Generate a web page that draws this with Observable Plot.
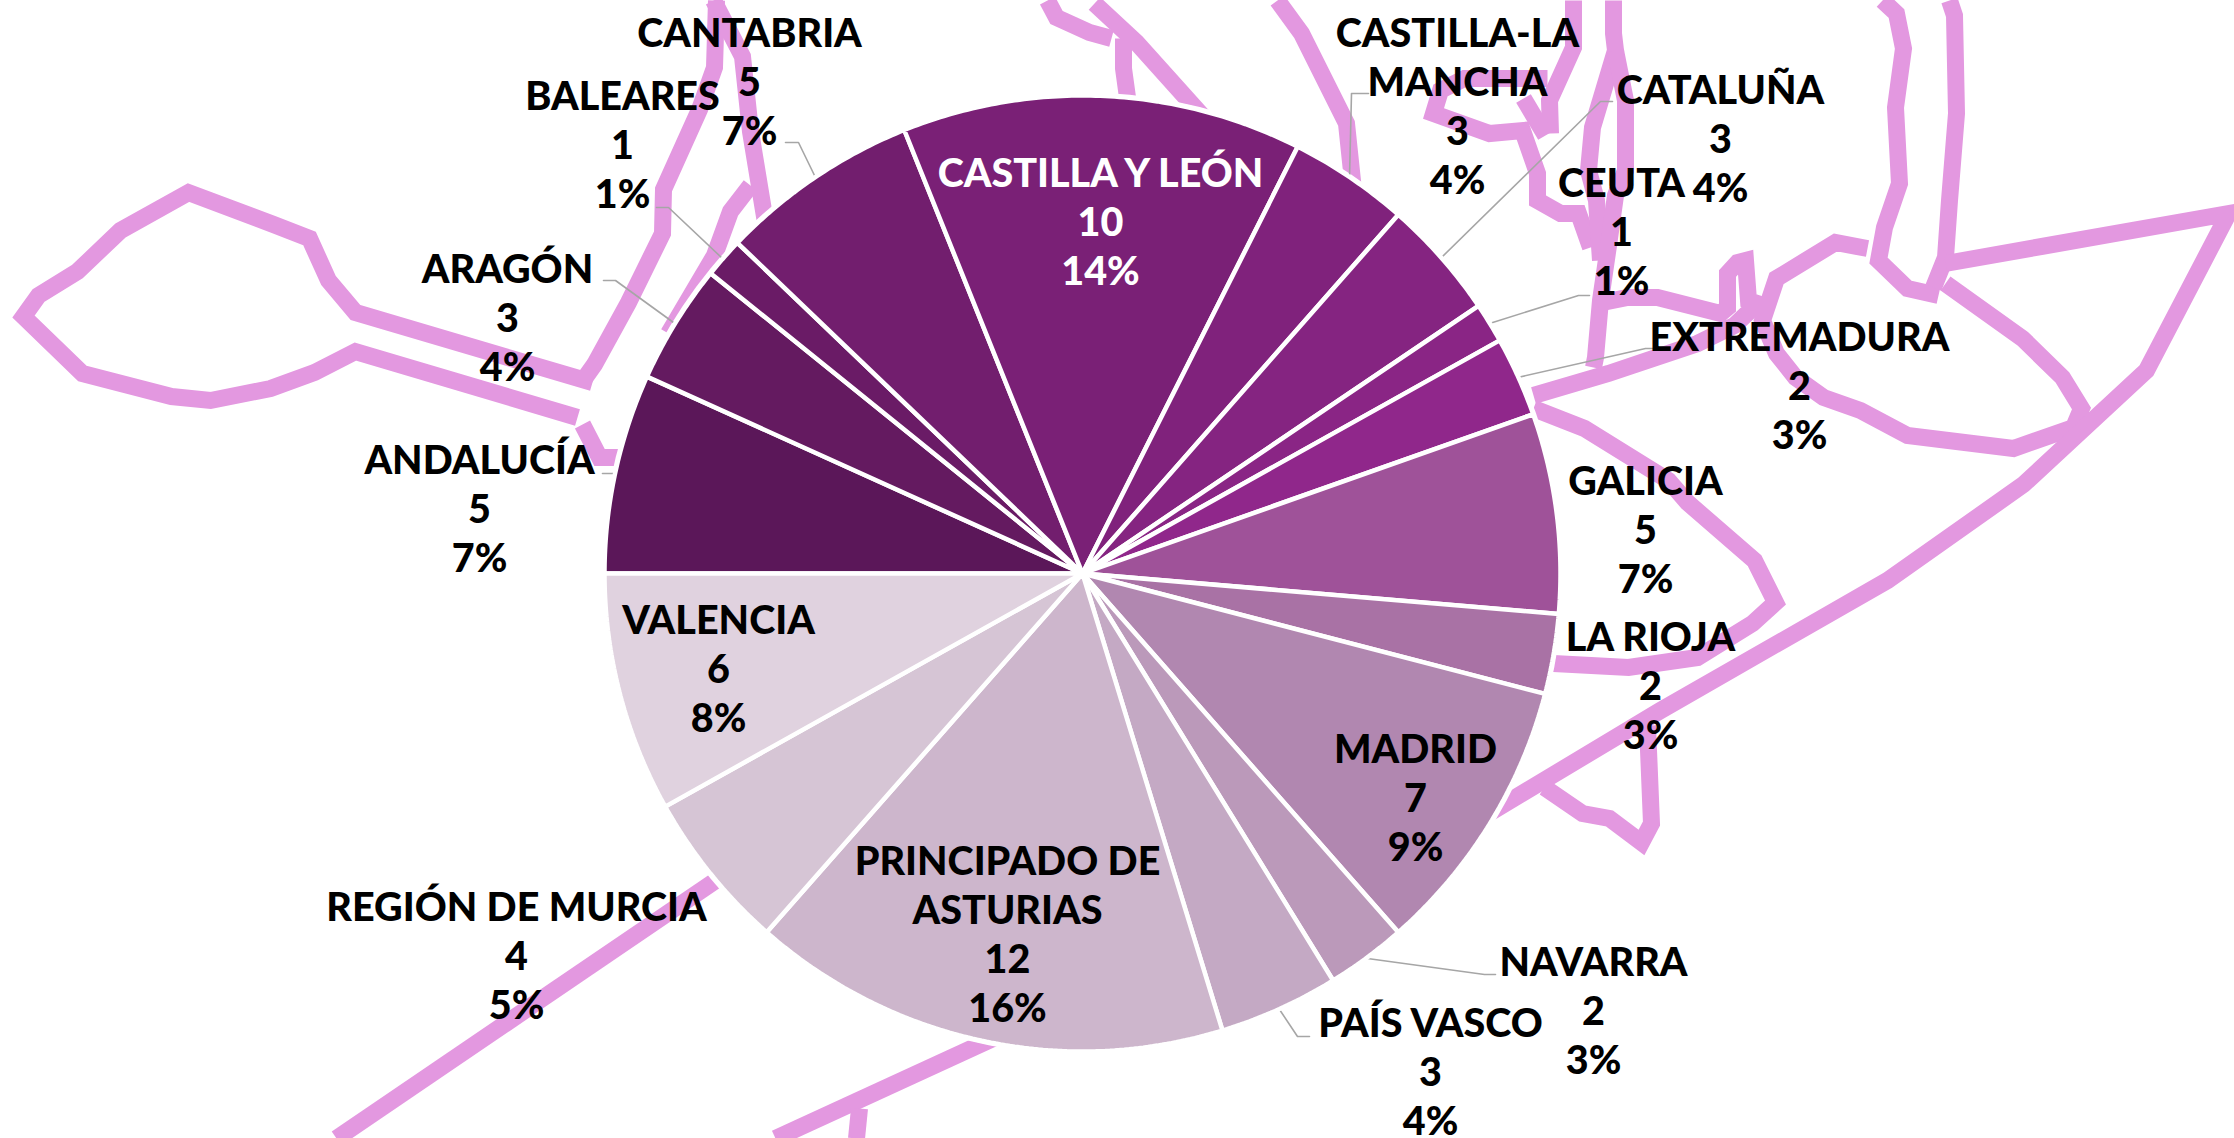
<!DOCTYPE html>
<html><head><meta charset="utf-8">
<script src="https://cdn.jsdelivr.net/npm/d3@7"></script>
<script src="https://cdn.jsdelivr.net/npm/@observablehq/plot@0.6"></script>
<style>html,body{margin:0;padding:0;background:#fff}svg{display:block}</style>
</head><body><div id="chart"></div>
<script>
const regions = ["ANDALUCÍA","ARAGÓN","BALEARES","CANTABRIA","CASTILLA Y LEÓN","CASTILLA-LA\nMANCHA","CATALUÑA","CEUTA","EXTREMADURA","GALICIA","LA RIOJA","MADRID","NAVARRA","PAÍS VASCO","PRINCIPADO DE\nASTURIAS","REGIÓN DE MURCIA","VALENCIA"];
const counts = [5,3,1,5,10,3,3,1,2,5,2,7,2,3,12,4,6];
const sliceColors = ["#5b1759","#641a60","#6a1b66","#721e6e","#7a2076","#80227c","#852481","#8a2585","#90278b","#9f5299","#a972a5","#b187b0","#bb99ba","#c4a9c4","#cdb6cc","#d6c5d5","#e0d2df"];
const labelX = [479,507,622,749,1100,1457,1720,1621,1799,1645,1650,1415,1593,1430,1007,516,718];
const labelY = [507,316,143,80,220,104,137,230,384,528,684,796,1009,1070,932,954,667];
const insideWhite = ["CASTILLA Y LEÓN"];

// background map outline, in picture coordinates
const outline = [
 [[592,382],[355,312],[328,280],[309,238],[273,224],[188,192],[120,230],[77,271],[38,295],[23,316],[82,373],[171,396],[210,400],[270,388],[314,372],[355,351],[577,417]],
 [[582,424],[599,457],[618,457]],
 [[584,378],[594,364],[628,302],[662,233],[663,189],[699,109],[714,67],[716,0]],
 [[713,0],[742,56],[750,131],[765,222]],
 [[668,333],[714,255],[730,211],[750,185]],
 [[1047,0],[1056,17],[1089,32],[1111,38]],
 [[1094,3],[1136,42],[1215,130]],
 [[1123,38],[1123,68],[1127,97]],
 [[1277,0],[1301,33],[1346,123],[1353,190]],
 [[1573,0],[1573,47],[1549,100],[1550,133]],
 [[1523,98],[1545,135]],
 [[1547,78],[1509,78],[1464,78],[1440,90],[1433,113],[1489,133],[1522,130],[1537,173],[1537,200],[1560,213],[1578,213],[1590,247]],
 [[1613,0],[1613,33],[1615,50],[1592,127],[1588,170],[1596,200],[1600,260]],
 [[1615,50],[1625,100],[1625,170],[1615,195],[1608,245],[1600,300],[1595,357],[1593,367]],
 [[1597,303],[1627,297],[1657,297],[1720,313],[1727,307],[1727,273],[1737,262],[1745,260],[1748,300],[1757,303],[1734,325],[1697,343],[1608,373],[1533,395]],
 [[1533,408],[1584,428],[1668,480],[1687,502],[1754,560],[1775,602],[1752,623],[1697,657],[1628,667],[1553,663]],
 [[1867,248],[1835,242],[1776,278],[1762,320],[1776,353],[1795,377],[1823,397],[1860,410],[1907,435],[2013,448],[2073,427],[2081,408],[2062,377],[2022,338],[1945,283]],
 [[1882,0],[1896,13],[1903,48],[1895,107],[1899,183],[1884,227],[1878,260],[1907,288],[1938,295]],
 [[1949,0],[1954,15],[1956,113],[1949,200],[1945,257],[1933,287]],
 [[1945,263],[2228,213],[2146,370],[2023,484],[1887,580],[1660,710],[1490,812]],
 [[1647,725],[1651,823],[1641,842],[1609,818],[1582,813],[1544,787]],
 [[730,870],[336,1138]],
 [[1010,1030],[775,1138]],
 [[859,1108],[856,1138]]
];
// leader lines from label to slice
const leaders = [
 [[785,142],[798,142],[815,177]],
 [[656,207],[668,207],[722,258]],
 [[603,280],[615,280],[673,322]],
 [[602,473],[615,473]],
 [[1368,93],[1351,93],[1349,177]],
 [[1612,101],[1600,101],[1441,257]],
 [[1589,295],[1578,295],[1489,323]],
 [[1656,348],[1645,348],[1517,377]],
 [[1495,974],[1484,974],[1367,958]],
 [[1309,1036],[1297,1036],[1279,1009]]
];

const W = 2234, H = 1138;
const cx = 1082, cy = 573, radius = 478, halo = 481;
const total = d3.sum(counts);
const table = regions.map((name,i)=>({name, value:counts[i], color:sliceColors[i], x:labelX[i], y:labelY[i],
  text:`${name}\n${counts[i]}\n${Math.round(counts[i]/total*100)}%`}));
const arcs = d3.pie().sort(null).value(d=>d.value).startAngle(-Math.PI/2).endAngle(1.5*Math.PI)(table);
const sliceVertices = arcs.flatMap(a=>{
  const n = Math.max(2,Math.ceil((a.endAngle-a.startAngle)/0.01));
  const pts=[{name:a.data.name,x:cx,y:cy}];
  for(let k=0;k<=n;k++){const t=a.startAngle+(a.endAngle-a.startAngle)*k/n;
    pts.push({name:a.data.name,x:cx+radius*Math.sin(t),y:cy-radius*Math.cos(t)});}
  pts.push({name:a.data.name,x:cx,y:cy});
  return pts;
});
const toRows = list => list.flatMap((seg,i)=>seg.map(([x,y])=>({i,x,y})));
const labelFont = {fontFamily:"Lato, sans-serif",fontWeight:900,fontSize:39.5,lineHeight:1.24,textAnchor:"middle",lineAnchor:"middle"};

const chart = Plot.plot({
  width:W,height:H,margin:0,
  style:{background:"#fff"},
  x:{domain:[0,W],range:[0,W],axis:null},
  y:{domain:[0,H],range:[0,H],axis:null},
  color:{type:"ordinal",domain:regions,range:sliceColors},
  marks:[
    Plot.line(toRows(outline),{x:"x",y:"y",z:"i",stroke:"#e398e0",strokeWidth:17,strokeLinejoin:"miter",strokeMiterlimit:4,strokeLinecap:"butt"}),
    Plot.dot([0],{x:()=>cx,y:()=>cy,r:halo,fill:"#fff",stroke:"none"}),
    Plot.line(toRows(leaders),{x:"x",y:"y",z:"i",stroke:"#a6a6a6",strokeWidth:1.6}),
    Plot.line(sliceVertices,{x:"x",y:"y",z:"name",fill:"name",stroke:"#fff",strokeWidth:4.5,strokeLinejoin:"miter"}),
    Plot.text(table.filter(d=>!insideWhite.includes(d.name)),{x:"x",y:"y",text:"text",fill:"#000",...labelFont}),
    Plot.text(table.filter(d=>insideWhite.includes(d.name)),{x:"x",y:"y",text:"text",fill:"#fff",...labelFont})
  ]
});
document.getElementById("chart").append(chart);
</script></body></html>
